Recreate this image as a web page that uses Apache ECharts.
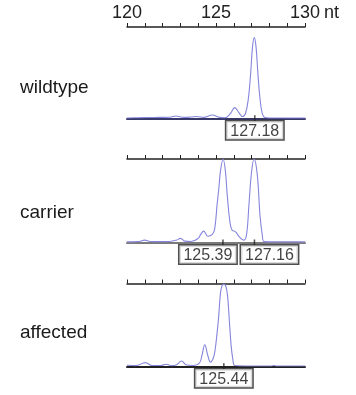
<!DOCTYPE html>
<html>
<head>
<meta charset="utf-8">
<style>
  html, body { margin: 0; padding: 0; background: #fff; }
  #chart { width: 356px; height: 395px; }
</style>
<script src="https://cdn.jsdelivr.net/npm/echarts@6/dist/echarts.min.js"></script>
</head>
<body>
<div id="chart"></div>
<script>
// 片段长度 (nt) 与相对信号强度
const panelNames = ['wildtype', 'carrier', 'affected']
const tickLabels = [120, 125, 130]

const wildtypeTrace = [
  [120.0, 0.004], [120.6, 0.006], [121.2, 0.008], [121.8, 0.01], [122.4, 0.012],
  [122.75, 0.026], [123.2, 0.01], [123.6, 0.014], [123.9, 0.02], [124.3, 0.01],
  [124.8, 0.036], [125.2, 0.01], [125.5, 0.006], [125.8, 0.05], [126.05, 0.117],
  [126.3, 0.06], [126.47, 0.02], [126.65, 0.05], [126.82, 0.22], [126.95, 0.5],
  [127.05, 0.78], [127.15, 0.884], [127.25, 0.78], [127.35, 0.5], [127.47, 0.22],
  [127.6, 0.05], [127.75, 0.008], [128.0, 0.004], [130.0, 0.004]
]

const carrierTrace = [
  [120.0, 0.008], [120.6, 0.01], [121.0, 0.028], [121.3, 0.012], [121.8, 0.01],
  [122.4, 0.012], [122.8, 0.03], [123.0, 0.05], [123.25, 0.016], [123.6, 0.012],
  [124.0, 0.05], [124.15, 0.1], [124.31, 0.136], [124.54, 0.075], [124.8, 0.1],
  [124.93, 0.17], [125.06, 0.45], [125.16, 0.65], [125.26, 0.87], [125.4, 1.0],
  [125.53, 0.85], [125.63, 0.57], [125.78, 0.25], [125.9, 0.15], [126.1, 0.128],
  [126.3, 0.07], [126.57, 0.028], [126.72, 0.1], [126.85, 0.45], [127.0, 0.85],
  [127.14, 1.0], [127.32, 0.81], [127.47, 0.33], [127.6, 0.09], [127.7, 0.01],
  [128.0, 0.008], [130.0, 0.008]
]

const affectedTrace = [
  [120.0, 0.012], [120.5, 0.008], [121.03, 0.044], [121.4, 0.01], [121.9, 0.01],
  [122.2, 0.024], [122.5, 0.008], [122.8, 0.02], [123.06, 0.064], [123.35, 0.015],
  [123.7, 0.01], [124.07, 0.04], [124.22, 0.14], [124.37, 0.26], [124.54, 0.13],
  [124.69, 0.05], [124.85, 0.1], [124.95, 0.2], [125.05, 0.38], [125.15, 0.6],
  [125.25, 0.88], [125.35, 0.98], [125.45, 0.99], [125.55, 0.97], [125.65, 0.85],
  [125.75, 0.55], [125.85, 0.25], [125.95, 0.08], [126.05, 0.01], [127.0, 0.004],
  [128.1, 0.004], [128.25, 0.01], [128.4, 0.004], [130.0, 0.004]
]

const wildtypeCalls = [127.18]
const carrierCalls = [125.39, 127.16]
const affectedCalls = [125.44]

const traces = [wildtypeTrace, carrierTrace, affectedTrace]
const calls = [wildtypeCalls, carrierCalls, affectedCalls]

// 版式：每个面板的上轴线与基线位置
const gridTops = [27, 159, 283.5]
const gridHeights = [91.3, 83.5, 82.8]
const baselineColors = ['#3a3a6a', '#7a7a7a', '#222']
// 相邻标注框错开，避免重叠
const callOffsets = [[0], [-15, 15], [0]]

const FONT = 'Liberation Sans, Arial, sans-serif'
const chart = echarts.init(document.getElementById('chart'))

const grid = []
const xAxis = []
const yAxis = []
const series = []
const graphic = []

panelNames.forEach((name, i) => {
  grid.push({ left: 127, right: 51, top: gridTops[i], height: gridHeights[i] })

  // 上方刻度轴
  xAxis.push({
    type: 'value', gridIndex: i, position: 'top', min: 120, max: 130, interval: 1,
    axisLine: { onZero: false, lineStyle: { color: '#222', width: 1.5 } },
    axisTick: { show: true, length: 4, lineStyle: { color: '#222', width: 1 } },
    axisLabel: {
      show: i === 0, margin: 5, fontSize: 18, fontFamily: FONT, color: '#222',
      formatter: v => (tickLabels.includes(v) ? String(v) : '')
    },
    splitLine: { show: false },
    name: i === 0 ? 'nt' : '',
    nameLocation: 'end',
    nameGap: 14,
    nameTextStyle: { fontSize: 18, fontFamily: FONT, color: '#222', verticalAlign: 'bottom', padding: [0, 0, 5, 0] }
  })
  // 基线
  xAxis.push({
    type: 'value', gridIndex: i, position: 'bottom', min: 120, max: 130,
    axisLine: { onZero: false, lineStyle: { color: baselineColors[i], width: 2 } },
    axisTick: { show: false },
    axisLabel: { show: false },
    splitLine: { show: false }
  })
  yAxis.push({ type: 'value', gridIndex: i, min: 0, max: 1, show: false })

  series.push({
    type: 'line', xAxisIndex: i * 2 + 1, yAxisIndex: i,
    data: traces[i], smooth: 0.4, showSymbol: false, silent: true,
    lineStyle: { color: '#8585dc', width: 1.1 }
  })

  series.push({
    type: 'scatter', xAxisIndex: i * 2 + 1, yAxisIndex: i, z: 5,
    symbol: 'rect', symbolSize: [1.5, 6],
    itemStyle: { color: '#222' },
    data: calls[i].map((v, k) => ({
      value: [v, 0],
      label: { offset: [callOffsets[i][k], 0] }
    })),
    label: {
      show: true, position: 'bottom', distance: 0,
      formatter: p => p.value[0].toFixed(2),
      fontSize: 16, fontFamily: FONT, color: '#111',
      backgroundColor: '#fff', borderColor: '#222', borderWidth: 1.5,
      padding: [2, 4, 0, 4]
    }
  })

  graphic.push({
    type: 'text', left: 20, top: gridTops[i] + [51, 44, 40][i],
    style: { text: name, font: '19px ' + FONT, fill: '#1a1a1a' }
  })
})

chart.setOption({
  animation: false,
  grid, xAxis, yAxis, series, graphic
})
</script>
</body>
</html>
